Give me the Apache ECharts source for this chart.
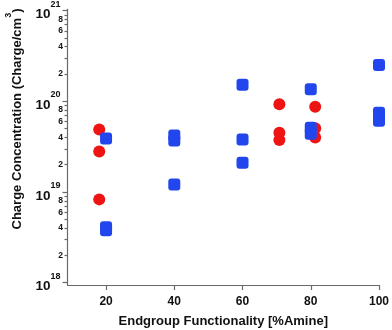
<!DOCTYPE html>
<html>
<head>
<meta charset="utf-8">
<script src="https://cdn.jsdelivr.net/npm/echarts@6/dist/echarts.min.js"></script>
<style>
html,body{margin:0;padding:0;background:#fff;}
#c{width:392px;height:330px;}
</style>
</head>
<body>
<div id="c"></div>
<script>
// Data
var redX = [18, 18, 18, 70.8, 70.8, 70.8, 81.3, 81.3, 81.3];
var redY = [4.9e19, 2.8e19, 8.3e18, 9.3e19, 4.5e19, 3.75e19, 8.7e19, 5.05e19, 4.0e19];
var blueX = [20, 20, 20, 40, 40, 40, 60, 60, 60, 80, 80, 80, 100, 100, 100];
var blueY = [3.9e19, 4.1e18, 3.8e18, 4.2e19, 3.7e19, 1.21e19, 1.52e20, 3.8e19, 2.1e19, 1.36e20, 5.1e19, 4.4e19, 2.52e20, 7.5e19, 6.1e19];
var xTicks = [20, 40, 60, 80, 100];
var decades = [18, 19, 20, 21];
var minorMantissas = [2, 3, 4, 5, 6, 7, 8, 9];
var minorLabelMantissas = [2, 4, 6, 8];
var xName = 'Endgroup Functionality [%Amine]';
var yNameMain = 'Charge Concentration (Charge/cm';
var yNameSup = '3';

var logMin = 17.975, logMax = 21.015;
var minorTickVals = [], minorLabelVals = [];
decades.slice(0, 3).forEach(function (d) {
  minorMantissas.forEach(function (m) { minorTickVals.push(d + Math.log10(m)); });
  minorLabelMantissas.forEach(function (m) { minorLabelVals.push(d + Math.log10(m)); });
});

function zip(a, b) { return a.map(function (v, i) { return [v, b[i]]; }); }

var axisColor = '#6a6a6a';
var grid = { left: 67.5, right: 13, top: 9.3, bottom: 45, containLabel: false, outerBoundsMode: 'none' };

var chart = echarts.init(document.getElementById('c'), null, { renderer: 'canvas' });
chart.setOption({
  animation: false,
  backgroundColor: '#ffffff',
  grid: grid,
  xAxis: {
    type: 'value', min: 8.7, max: 100,
    axisLine: { show: true, lineStyle: { color: axisColor, width: 1.2 } },
    axisTick: { show: true, customValues: xTicks, length: 5, lineStyle: { color: axisColor, width: 1.2 } },
    axisLabel: { customValues: xTicks, margin: 11, fontSize: 12, fontWeight: 'bold', color: '#111', fontFamily: 'Liberation Sans, Arial, sans-serif' },
    splitLine: { show: false },
    name: xName, nameLocation: 'middle', nameGap: 30,
    nameTextStyle: { fontSize: 13, fontWeight: 'bold', color: '#111', fontFamily: 'Liberation Sans, Arial, sans-serif' }
  },
  yAxis: [
    {
      type: 'log', min: Math.pow(10, logMin), max: Math.pow(10, logMax),
      axisLine: { show: true, lineStyle: { color: axisColor, width: 1.2 } },
      axisTick: { show: false }, axisLabel: { show: false }, splitLine: { show: false }, minorTick: { show: false }
    },
    {
      type: 'value', min: logMin, max: logMax, position: 'left',
      axisLine: { show: false },
      axisTick: { show: true, customValues: decades, length: 5, lineStyle: { color: axisColor, width: 1.2 } },
      axisLabel: {
        customValues: decades, margin: 7,
        formatter: function (v) { return '{b|10}{s|' + Math.round(v) + '}'; },
        rich: {
          b: { fontSize: 13.5, fontWeight: 'bold', color: '#111', lineHeight: 22, verticalAlign: 'bottom', fontFamily: 'Liberation Sans, Arial, sans-serif' },
          s: { fontSize: 9, fontWeight: 'bold', color: '#111', lineHeight: 22, verticalAlign: 'top', fontFamily: 'Liberation Sans, Arial, sans-serif' }
        }
      },
      splitLine: { show: false }
    },
    {
      type: 'value', min: logMin, max: logMax, position: 'left',
      axisLine: { show: false },
      axisTick: { show: true, customValues: minorTickVals, length: 3, lineStyle: { color: axisColor, width: 1.2 } },
      axisLabel: {
        customValues: minorLabelVals, margin: 4.5,
        formatter: function (v) { var d = Math.floor(v + 1e-9); return String(Math.round(Math.pow(10, v - d))); },
        fontSize: 8.5, fontWeight: 'bold', color: '#111', fontFamily: 'Liberation Sans, Arial, sans-serif'
      },
      splitLine: { show: false }
    }
  ],
  graphic: [{
    type: 'text', x: 14, y: 119, rotation: Math.PI / 2,
    style: {
      text: '{a|' + yNameMain + '}{s|' + yNameSup + '}{a|)}',
      align: 'center', verticalAlign: 'middle',
      rich: {
        a: { fontSize: 13, fontWeight: 'bold', fill: '#111', lineHeight: 20, verticalAlign: 'bottom', fontFamily: 'Liberation Sans, Arial, sans-serif' },
        s: { fontSize: 9, fontWeight: 'bold', fill: '#111', lineHeight: 20, verticalAlign: 'top', fontFamily: 'Liberation Sans, Arial, sans-serif' }
      }
    }
  }],
  series: [
    {
      type: 'scatter', yAxisIndex: 0, symbol: 'circle', symbolSize: 12,
      itemStyle: { color: '#ee1414', opacity: 1 },
      data: zip(redX, redY), z: 2
    },
    {
      type: 'scatter', yAxisIndex: 0, symbol: 'roundRect', symbolSize: 12,
      itemStyle: { color: '#2246ee', opacity: 1 },
      data: zip(blueX, blueY), z: 3
    }
  ]
});
</script>
</body>
</html>
